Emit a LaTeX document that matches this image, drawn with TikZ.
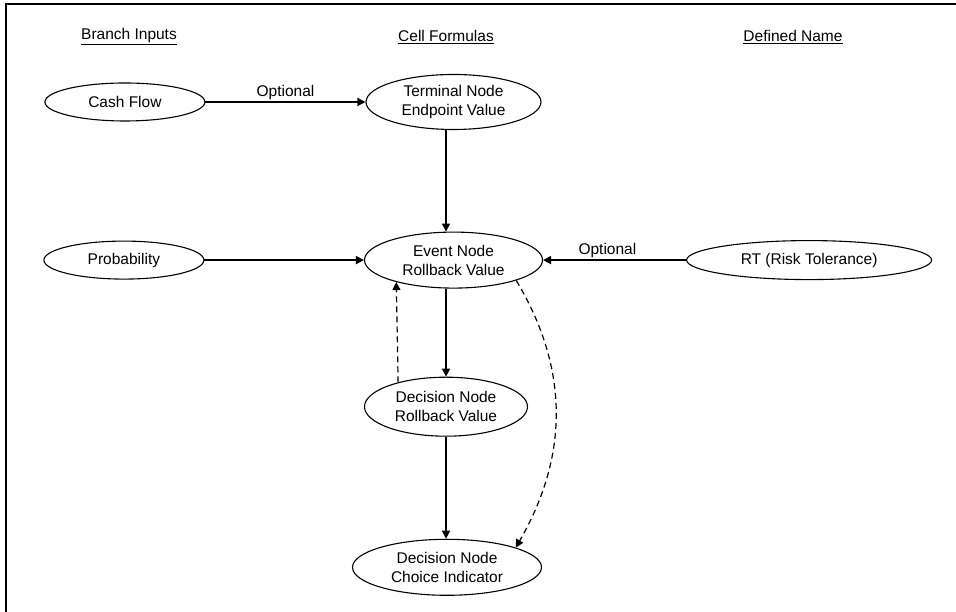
\documentclass[tikz,border=0pt]{standalone}
\usepackage{fontspec}
\setmainfont{Liberation Sans}
\usetikzlibrary{shapes.geometric, positioning}
\usetikzlibrary{arrows.meta}
\tikzset{>={Triangle[width=8pt,length=8pt]}}

\begin{document}
\begin{tikzpicture}[x=1pt, y=1pt, font=\fontsize{15.5}{19}\selectfont, oval/.style={ellipse, draw=black, line width=1.1pt, inner sep=0pt, align=center}, colhead/.style={inner sep=0pt}, flow/.style={->, line width=1.6pt}, feedback/.style={->, line width=1.2pt, dash pattern=on 6pt off 4pt}]

    \useasboundingbox (0,0) rectangle (956,612);
    \draw[line width=2.4pt] (5.8,-20) -- (5.8,607.7) -- (980,607.7);

    %Nodes
    \node[colhead](branch_head) at (129,575){\underline{Branch Inputs}};
    \node[colhead](cell_head) at (446,575){\underline{Cell Formulas}};
    \node[colhead](name_head) at (793,575){\underline{Defined Name}};
    \node[oval, minimum width=175pt, minimum height=55pt](terminal) at (453.5,510){Terminal Node\\Endpoint Value};
    \node[oval, minimum width=160pt, minimum height=38pt](cash_flow)[left=160pt of terminal]{Cash Flow};
    \node[oval, minimum width=178pt, minimum height=56pt](event)[below=101.5pt of terminal]{Event Node\\Rollback Value};
    \node[oval, minimum width=160pt, minimum height=38pt](probability)[left=159.5pt of event]{Probability};
    \node[oval, minimum width=245pt, minimum height=39pt](risk_tol)[right=143pt of event]{RT (Risk Tolerance)};
    \node[oval, minimum width=163pt, minimum height=59pt](rollback)[below=88pt of event, xshift=-7.5pt]{Decision Node\\Rollback Value};
    \node[oval, minimum width=189pt, minimum height=56pt](choice)[below=102pt of rollback, xshift=1pt]{Decision Node\\Choice Indicator};

    %Lines
    \draw[flow] (cash_flow) -- node[above, inner sep=1.5pt]{Optional} (terminal);
    \draw[flow] (probability) -- (event);
    \draw[flow] (risk_tol) -- node[above, inner sep=1.5pt, pos=0.55]{Optional} (event);
    \draw[flow] (terminal.south -| rollback) -- (event.north -| rollback);
    \draw[flow] (event.south -| rollback) -- (rollback);
    \draw[flow] (rollback) -- (choice.north -| rollback);
    \draw[feedback] (rollback.153.6) -- (event.201.8);
    \draw[feedback] (event.-18) to[out=-59, in=60] (choice.16);
\end{tikzpicture}
\end{document}
